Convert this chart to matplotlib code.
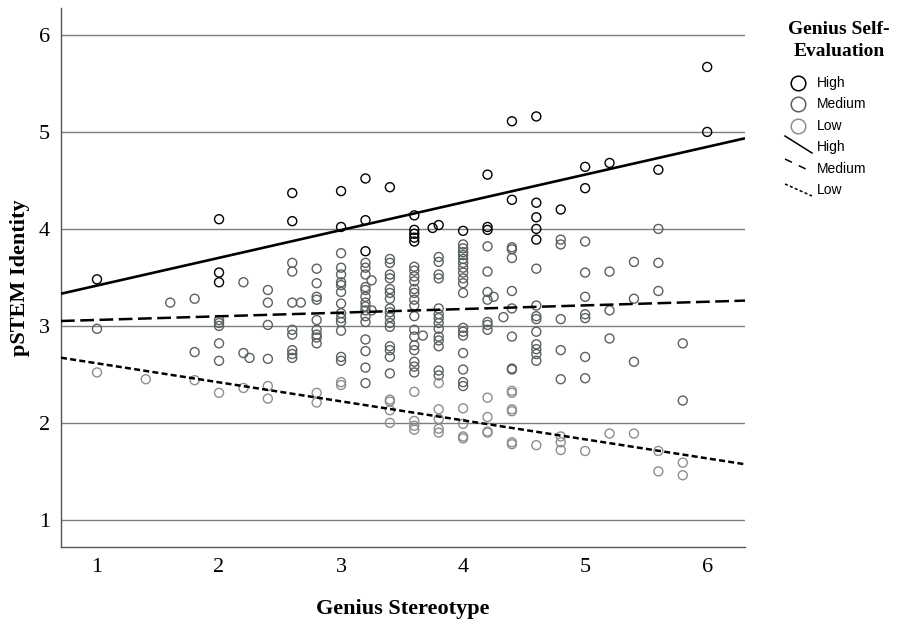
import numpy as np
import matplotlib
matplotlib.use("Agg")
import matplotlib.pyplot as plt
from matplotlib.lines import Line2D

# --- данные ---
# High (чёрные кружки)
high_x = [1.0, 2.0, 2.0, 2.0, 2.6, 2.6, 3.0, 3.0, 3.2, 3.2, 3.2, 3.4,
          3.6, 3.6, 3.6, 3.6, 3.6, 3.75, 3.8, 4.0, 4.2, 4.2, 4.2, 4.4, 4.4,
          4.6, 4.6, 4.6, 4.6, 4.6, 4.8, 5.0, 5.0, 5.2, 5.6, 6.0, 6.0]
high_y = [3.48, 4.10, 3.55, 3.45, 4.37, 4.08, 4.39, 4.02, 4.52, 4.09, 3.77, 4.43,
          4.14, 3.99, 3.95, 3.91, 3.87, 4.01, 4.04, 3.98, 4.56, 4.02, 3.99, 5.11, 4.30,
          5.16, 4.27, 4.12, 4.00, 3.89, 4.20, 4.64, 4.42, 4.68, 4.61, 5.67, 5.00]

# Medium (тёмно-серые) — по столбцам x
medium_x = [1.0, 1.6, 1.8, 2.0, 2.2, 2.25, 2.4, 2.6, 2.67, 2.8, 3.0, 3.2, 3.25,
            3.4, 3.6, 3.67, 3.8, 4.0, 4.2, 4.25, 4.33, 4.4, 4.6, 4.8, 5.0,
            5.2, 5.4, 5.6, 5.8]
medium_y = [
    [2.97],
    [3.24],
    [3.28, 2.73],
    [3.06, 3.03, 3.00, 2.82, 2.64],
    [3.45, 2.72],
    [2.67],
    [3.37, 3.24, 3.01, 2.66],
    [3.65, 3.56, 3.24, 2.96, 2.91, 2.75, 2.71, 2.67],
    [3.24],
    [3.59, 3.44, 3.30, 3.27, 3.06, 2.96, 2.91, 2.88, 2.82],
    [3.75, 3.60, 3.53, 3.45, 3.42, 3.35, 3.23, 3.13, 3.08, 3.04, 2.95, 2.68, 2.64],
    [3.65, 3.60, 3.53, 3.40, 3.37, 3.30, 3.24, 3.20, 3.16, 3.10, 3.04, 2.86, 2.74, 2.57, 2.41],
    [3.47, 3.16],
    [3.69, 3.65, 3.53, 3.49, 3.38, 3.34, 3.28, 3.18, 3.14, 3.09, 3.03, 2.99, 2.79, 2.75, 2.68, 2.51],
    [3.61, 3.57, 3.51, 3.46, 3.38, 3.34, 3.27, 3.21, 3.10, 2.96, 2.89, 2.80, 2.75, 2.63, 2.58, 2.52],
    [2.90],
    [3.71, 3.66, 3.53, 3.49, 3.18, 3.12, 3.08, 3.03, 2.97, 2.89, 2.85, 2.79, 2.54, 2.49],
    [3.84, 3.80, 3.76, 3.73, 3.69, 3.65, 3.60, 3.55, 3.49, 3.44, 3.34, 2.98, 2.94, 2.90,
     2.72, 2.55, 2.42, 2.38],
    [3.82, 3.56, 3.35, 3.27, 3.04, 3.01, 2.96],
    [3.30],
    [3.09],
    [3.81, 3.79, 3.70, 3.36, 3.18, 2.89, 2.56, 2.55],
    [3.59, 3.21, 3.10, 3.07, 2.94, 2.81, 2.76, 2.71, 2.64],
    [3.89, 3.84, 3.07, 2.75, 2.45],
    [3.87, 3.55, 3.30, 3.12, 3.08, 2.68, 2.46],
    [3.56, 3.16, 2.87],
    [3.66, 3.28, 2.63],
    [4.00, 3.65, 3.36],
    [2.82, 2.23],
]

# Low (светло-серые) — по столбцам x
low_x = [1.0, 1.4, 1.8, 2.0, 2.2, 2.4, 2.8, 3.0, 3.4, 3.6, 3.8, 4.0, 4.2,
         4.4, 4.6, 4.8, 5.0, 5.2, 5.4, 5.6, 5.8]
low_y = [
    [2.52],
    [2.45],
    [2.44],
    [2.31],
    [2.36],
    [2.38, 2.25],
    [2.31, 2.21],
    [2.42, 2.39],
    [2.24, 2.22, 2.13, 2.00],
    [2.32, 2.02, 1.97, 1.93],
    [2.41, 2.14, 2.04, 1.94, 1.90],
    [2.15, 1.99, 1.86, 1.84],
    [2.26, 2.06, 1.91, 1.90],
    [2.33, 2.31, 2.14, 2.12, 1.80, 1.78],
    [1.77],
    [1.86, 1.80, 1.72],
    [1.71],
    [1.89],
    [1.89],
    [1.71, 1.50],
    [1.59, 1.46],
]

# Линии регрессии: (свободный член, наклон)
groups = ['High', 'Medium', 'Low']
fit_intercept = [3.13, 3.024, 2.81]
fit_slope = [0.286, 0.0375, -0.196]

colors = ['#000000', '#5a625d', '#8e8e8e']
x_ticks = [1, 2, 3, 4, 5, 6]
y_ticks = [1, 2, 3, 4, 5, 6]


def expand(xs, cols):
    px, py = [], []
    for x, col in zip(xs, cols):
        px += [x] * len(col)
        py += col
    return px, py


med_px, med_py = expand(medium_x, medium_y)
low_px, low_py = expand(low_x, low_y)

W, H = 897, 625
fig = plt.figure(figsize=(W / 100, H / 100), dpi=100)
ax = fig.add_axes([61 / W, 1 - 547 / H, (745 - 61) / W, (547 - 8) / H])

xlim = (0.705, 6.31)
ax.set_xlim(xlim)
ax.set_ylim(0.72, 6.278)

ax.set_yticks(y_ticks)
ax.set_xticks(x_ticks)
ax.grid(axis='y', color='#7d7d7d', lw=1.0, zorder=0)
ax.set_axisbelow(True)

for sp in ['top', 'right']:
    ax.spines[sp].set_visible(False)
for sp in ['left', 'bottom']:
    ax.spines[sp].set_color('#555555')
    ax.spines[sp].set_linewidth(1.0)

serif = 'Liberation Serif'
ax.tick_params(length=0, labelsize=16, pad=8)
for lab in ax.get_xticklabels() + ax.get_yticklabels():
    lab.set_fontfamily(serif)

# точки
pts = [(high_x, high_y), (med_px, med_py), (low_px, low_py)]
for (xs, ys), c in zip(pts, colors):
    ax.scatter(xs, ys, s=42, facecolors='none', edgecolors=c, linewidths=1.0, zorder=3)

# линии регрессии
styles = [(None, 1.9), ((5.5, 2.2), 1.8), ((2.4, 1.3), 1.8)]
xx = np.array(xlim)
for b0, b1, (dash, lw) in zip(fit_intercept, fit_slope, styles):
    line, = ax.plot(xx, b0 + b1 * xx, color='black', lw=lw, zorder=4,
                    solid_capstyle='butt')
    if dash is not None:
        line.set_dashes(dash)

ax.set_xlabel('Genius Stereotype', fontfamily=serif, fontweight='bold',
              fontsize=16, labelpad=16)
ax.set_ylabel('pSTEM Identity', fontfamily=serif, fontweight='bold',
              fontsize=16, labelpad=6)

# --- легенда справа ---
def fx(px):
    return px / W


def fy(py):
    return 1 - py / H


fig.text(fx(839), fy(30), 'Genius Self-', ha='center', va='center',
         fontfamily=serif, fontweight='bold', fontsize=14)
fig.text(fx(839), fy(52), 'Evaluation', ha='center', va='center',
         fontfamily=serif, fontweight='bold', fontsize=14)

row_y = [83, 104, 126, 147, 169, 190]
for i, (g, c) in enumerate(zip(groups, colors)):
    fig.add_artist(Line2D([fx(798)], [fy(row_y[i])], marker='o', ms=10.5,
                          mfc='none', mec=c, mew=1.1, transform=fig.transFigure))
    fig.text(fx(817), fy(row_y[i]), g, ha='left', va='center',
             fontfamily='Liberation Sans', fontsize=10)

seg = [((785, 136), (812, 153)), ((785, 159), (812, 172)), ((785, 184), (812, 196))]
leg_dash = [None, (5, 5), (2, 1.5)]
for i, (g, (p0, p1), d) in enumerate(zip(groups, seg, leg_dash)):
    ln = Line2D([fx(p0[0]), fx(p1[0])], [fy(p0[1]), fy(p1[1])], color='black',
                lw=1.1, transform=fig.transFigure)
    if d is not None:
        ln.set_dashes(d)
    fig.add_artist(ln)
    fig.text(fx(817), fy(row_y[i + 3]), g, ha='left', va='center',
             fontfamily='Liberation Sans', fontsize=10)

fig.savefig('out.png', dpi=100)
